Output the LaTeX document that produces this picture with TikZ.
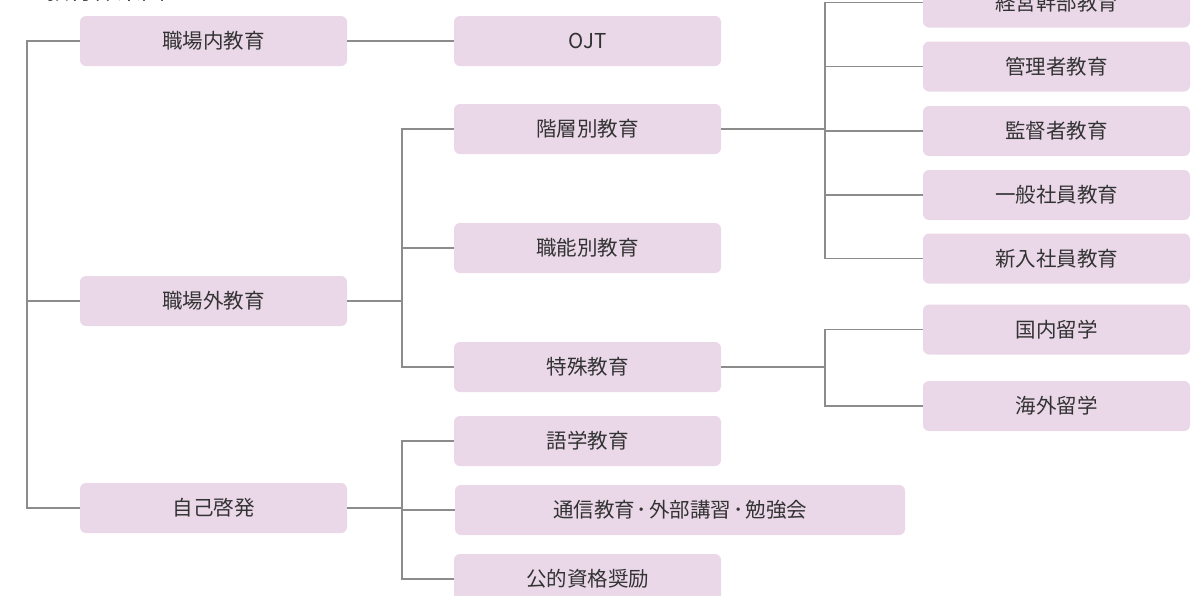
\documentclass[tikz,border=0pt]{standalone}
\usepackage{fontspec}
\newfontfamily\cjk{Noto Sans CJK JP}
\definecolor{boxfill}{HTML}{EAD8E9}
\definecolor{linegray}{HTML}{8C8C8C}
\definecolor{txtgray}{HTML}{333333}
\tikzset{
  ebox/.style={rectangle, rounded corners=6pt, fill=boxfill, draw=none,
    minimum width=267pt, minimum height=50pt, inner sep=0pt,
    text=txtgray, font=\cjk\fontsize{20.5}{20.5}\selectfont},
  wbox/.style={ebox, minimum width=450pt},
  conn/.style={draw=linegray, line width=1.8pt}
}
\newcommand{\mdot}{\kern2pt･\kern2pt}
\begin{document}
\begin{tikzpicture}[x=1pt,y=-1pt]
\clip (0,0) rectangle (1204,595);
\fill[white] (0,0) rectangle (1204,595);
% title (cropped at the top edge)
\node[anchor=base west, inner sep=0pt, text=txtgray, font=\cjk\fontsize{24}{24}\selectfont] (title) at (45,-1) {教育体系図};
% level 1
\node[ebox] (a1) at (213.5,41) {職場内教育};
\node[ebox] (a2) at (213.5,301) {職場外教育};
\node[ebox] (a3) at (213.5,508) {自己啓発};
% level 2
\node[ebox] (b1) at (587.5,41) {OJT};
\node[ebox] (b2) at (587.5,129) {階層別教育};
\node[ebox] (b3) at (587.5,248) {職能別教育};
\node[ebox] (b4) at (587.5,367) {特殊教育};
\node[ebox] (b5) at (587.5,441) {語学教育};
\node[wbox] (b6) at (680,510) {通信教育\mdot 外部講習\mdot 勉強会};
\node[ebox] (b7) at (587.5,579) {公的資格奨励};
% level 3
\node[ebox] (c1) at (1056.5,2.5) {経営幹部教育};
\node[ebox] (c2) at (1056.5,66.5) {管理者教育};
\node[ebox] (c3) at (1056.5,131) {監督者教育};
\node[ebox] (c4) at (1056.5,195) {一般社員教育};
\node[ebox] (c5) at (1056.5,258.5) {新入社員教育};
\node[ebox] (d1) at (1056.5,329.5) {国内留学};
\node[ebox] (d2) at (1056.5,406) {海外留学};
% junction coordinates
\coordinate (t0) at (27,41);
\coordinate (t1) at (402,301);
\coordinate (t2) at (402,508);
\coordinate (t3) at (825,130);
\coordinate (t4) at (825,367);
% left trunk
\draw[conn] (a1.west) -- (a1.west -| t0) |- (a3.west);
\draw[conn] (a2.west -| t0) -- (a2.west);
% 職場内教育 -> OJT
\draw[conn] (a1.east) -- (b1.west);
% 職場外教育
\draw[conn] (a2.east) -- (a2.east -| t1);
\draw[conn] (b2.west) -| (t1) |- (b4.west);
\draw[conn] (b3.west -| t1) -- (b3.west);
% 自己啓発
\draw[conn] (a3.east) -- (a3.east -| t2);
\draw[conn] (b5.west) -| (t2) |- (b7.west);
\draw[conn] (b6.west -| t2) -- (b6.west);
% 階層別教育
\draw[conn] (b2.east) -- (b2.east -| t3);
\draw[conn] (c1.west) -| (t3) |- (c5.west);
\draw[conn] (c2.west -| t3) -- (c2.west);
\draw[conn] (c3.west -| t3) -- (c3.west);
\draw[conn] (c4.west -| t3) -- (c4.west);
% 特殊教育
\draw[conn] (b4.east) -- (b4.east -| t4);
\draw[conn] (d1.west) -| (t4) |- (d2.west);
\end{tikzpicture}
\end{document}
